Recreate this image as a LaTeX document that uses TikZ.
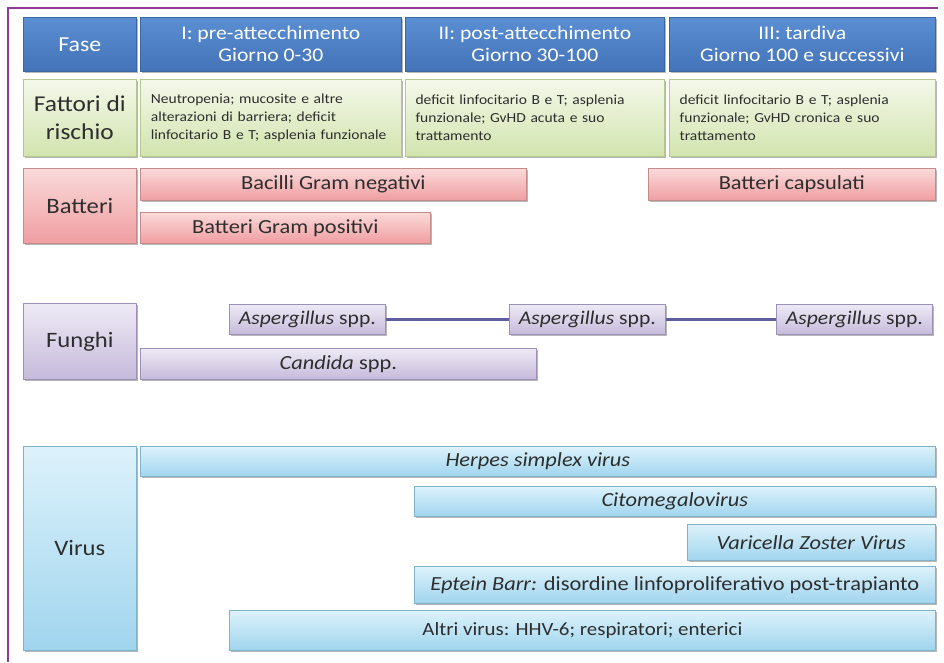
\documentclass[tikz,border=0pt]{standalone}
\usepackage{fontspec}
\setmainfont[FakeStretch=1.12]{Carlito}
\usetikzlibrary{shadows}
\definecolor{frame}{HTML}{8E3A96}
\definecolor{hdrtop}{HTML}{5A8ED2}
\definecolor{hdrbot}{HTML}{4473B8}
\definecolor{hdrdraw}{HTML}{3A66A4}
\definecolor{grtop}{HTML}{F4F8EA}
\definecolor{grbot}{HTML}{D2E4AE}
\definecolor{grdraw}{HTML}{B3C78E}
\definecolor{pktop}{HTML}{FADADA}
\definecolor{pkbot}{HTML}{F09EA1}
\definecolor{pkdraw}{HTML}{C48A8C}
\definecolor{putop}{HTML}{EEEAF5}
\definecolor{pubot}{HTML}{C6BADB}
\definecolor{pudraw}{HTML}{9C90B6}
\definecolor{cytop}{HTML}{DDF2FB}
\definecolor{cybot}{HTML}{A0D5EE}
\definecolor{cydraw}{HTML}{7EB3CA}
\definecolor{txt}{HTML}{2E2E2E}
\definecolor{conn}{HTML}{5F5F9E}
\newcommand\pxbox[7]{\node[#2, anchor=north west, minimum width={(#5-#3)*0.75pt}, minimum height={(#6-#4)*0.75pt}] (#1) at (#3,#4) {#7};}
\begin{document}
\begin{tikzpicture}[x=0.75pt,y=-0.75pt,
  cell/.style={inner sep=0pt, line width=0.5pt, text=txt,
    drop shadow={shadow xshift=1pt, shadow yshift=-1.4pt, opacity=0.4, fill=black!70}},
  hdr/.style={cell, top color=hdrtop, bottom color=hdrbot, draw=hdrdraw, text=white,
    font=\fontsize{14.5}{16.5}\selectfont, align=center},
  hdrlab/.style={hdr, font=\fontsize{16}{19}\selectfont},
  grn/.style={cell, top color=grtop, bottom color=grbot, draw=grdraw},
  grnlab/.style={grn, font=\fontsize{17}{21}\selectfont, align=center},
  grntxt/.style={grn, font=\fontsize{10.4}{13.5}\selectfont, align=left},
  lab/.style={font=\fontsize{16.5}{19}\selectfont},
  pnk/.style={cell, top color=pktop, bottom color=pkbot, draw=pkdraw, font=\fontsize{15}{17}\selectfont},
  prp/.style={cell, top color=putop, bottom color=pubot, draw=pudraw, font=\fontsize{15}{17}\selectfont},
  prpsm/.style={prp, font=\fontsize{14.5}{16}\selectfont},
  cyn/.style={cell, top color=cytop, bottom color=cybot, draw=cydraw, font=\fontsize{15}{17}\selectfont},
  link/.style={draw=conn, line width=1.8pt}]
\useasboundingbox (0,0) rectangle (944,662);
\draw[frame, line width=1.6pt] (8,662) -- (8,8) -- (938,8);
% header
\pxbox{hfase}{hdrlab}{23}{17}{136}{71}{Fase}
\pxbox{hI}{hdr}{140}{17}{401}{71}{I: pre-attecchimento\\Giorno 0-30}
\pxbox{hII}{hdr}{405}{17}{664}{71}{II: post-attecchimento\\Giorno 30-100}
\pxbox{hIII}{hdr}{669}{17}{935}{71}{III: tardiva\\Giorno 100 e successivi}
% fattori
\pxbox{flab}{grnlab}{23}{79}{136}{156}{Fattori di\\rischio}
\pxbox{fI}{grntxt, text width=180pt}{140}{79}{401}{156}{Neutropenia; mucosite e altre\\alterazioni di barriera; deficit\\linfocitario B e T; asplenia funzionale}
\pxbox{fII}{grntxt, text width=179pt}{405}{79}{664}{156}{deficit linfocitario B e T; asplenia\\funzionale; GvHD acuta e suo\\trattamento}
\pxbox{fIII}{grntxt, text width=184pt}{669}{79}{935}{156}{deficit linfocitario B e T; asplenia\\funzionale; GvHD cronica e suo\\trattamento}
% batteri
\pxbox{blab}{pnk, lab}{23}{168}{136}{243}{Batteri}
\pxbox{bneg}{pnk}{140}{168}{526}{200}{Bacilli Gram negativi}
\pxbox{bpos}{pnk}{140}{212}{430}{243}{Batteri Gram positivi}
\pxbox{bcap}{pnk}{648}{168}{935}{200}{Batteri capsulati}
% funghi
\pxbox{glab}{prp, lab}{23}{303}{136}{379}{Funghi}
\pxbox{asp1}{prpsm}{229}{304}{385}{334}{\textit{Aspergillus} spp.}
\pxbox{asp2}{prpsm}{509}{304}{665}{334}{\textit{Aspergillus} spp.}
\pxbox{asp3}{prpsm}{776}{304}{932}{334}{\textit{Aspergillus} spp.}
\pxbox{cand}{prp}{140}{348}{536}{379}{\textit{Candida} spp.}
\draw[link] (asp1.east) -- (asp2.west);
\draw[link] (asp2.east) -- (asp3.west);
% virus
\pxbox{vlab}{cyn, lab}{23}{446}{136}{650}{Virus}
\pxbox{hsv}{cyn}{140}{446}{935}{476}{\textit{Herpes simplex virus}}
\pxbox{cmv}{cyn}{414}{486}{935}{516}{\textit{Citomegalovirus}}
\pxbox{vzv}{cyn}{687}{524}{935}{560}{\textit{Varicella Zoster Virus}}
\pxbox{ebv}{cyn}{414}{566}{935}{603}{\textit{Eptein Barr:} disordine linfoproliferativo post-trapianto}
\pxbox{altri}{cyn, font=\fontsize{14}{16}\selectfont}{229}{610}{935}{650}{Altri virus: HHV-6; respiratori; enterici}
\end{tikzpicture}
\end{document}
